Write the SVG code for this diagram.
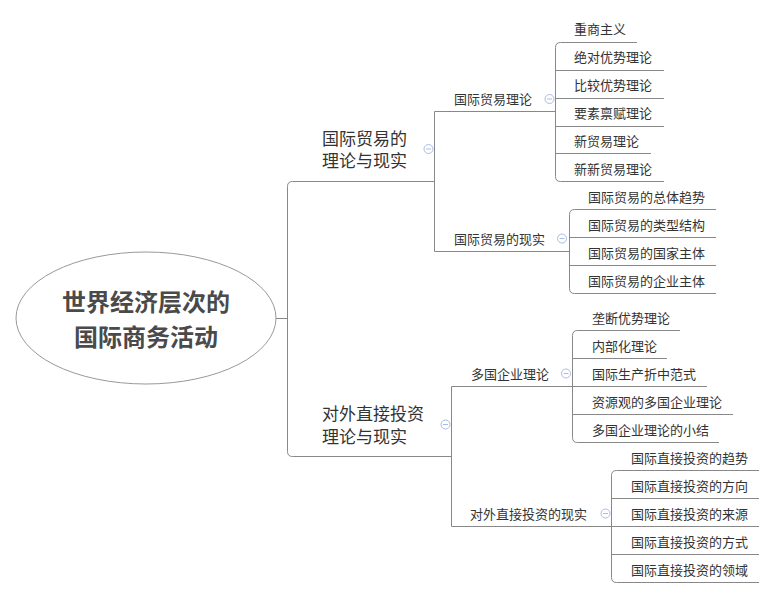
<svg xmlns="http://www.w3.org/2000/svg" width="775" height="598" viewBox="0 0 775 598">
<style>
text{font-family:"Noto Sans CJK SC","Liberation Sans",sans-serif;fill:#333;}
.root{font-size:24px;font-weight:bold;fill:#4a4a4a;}
.l1{font-size:17px;font-family:"Liberation Sans","Noto Sans CJK SC",sans-serif;}
.l2,.l3{font-size:13px;}
.c{fill:none;stroke:#888;stroke-width:1;}
.tog circle{fill:#fff;stroke:#a9bbe6;stroke-width:1;}
.tog line{stroke:#a9bbe6;stroke-width:1;}
</style>
<defs>
<g id="toggle" class="tog"><circle r="4.5"/><line x1="-2.5" y1="0" x2="2.5" y2="0"/></g>
</defs>
<rect width="775" height="598" fill="#fff"/>
<g id="connectors">
<path class="c" d="M276,318.5 H287.5"/>
<path class="c" d="M434.5,181.5 H292.5 Q287.5,181.5 287.5,186.5 V451.5 Q287.5,456.5 292.5,456.5 H451.5"/>
<path class="c" d="M555.5,111.5 H434.5 V251.5 H569.5"/>
<path class="c" d="M572.5,386.5 H451.5 V526.5 H611.5"/>
<path class="c" d="M637,42.5 H560.5 Q555.5,42.5 555.5,47.5 V176.5 Q555.5,181.5 560.5,181.5 H664"/>
<path class="c" d="M555.5,70.5 H664 M555.5,98.5 H664 M555.5,126.5 H664 M555.5,153.5 H651"/>
<path class="c" d="M716,209.5 H574.5 Q569.5,209.5 569.5,214.5 V288.5 Q569.5,293.5 574.5,293.5 H716"/>
<path class="c" d="M569.5,237.5 H716 M569.5,265.5 H716"/>
<path class="c" d="M680,330.5 H577.5 Q572.5,330.5 572.5,335.5 V437.5 Q572.5,442.5 577.5,442.5 H719"/>
<path class="c" d="M572.5,358.5 H667 M572.5,386.5 H707 M572.5,414.5 H733"/>
<path class="c" d="M759,470.5 H616.5 Q611.5,470.5 611.5,475.5 V577.5 Q611.5,582.5 616.5,582.5 H759"/>
<path class="c" d="M611.5,498.5 H759 M611.5,526.5 H759 M611.5,554.5 H759"/>
</g>
<g id="root">
<ellipse cx="146" cy="318" rx="130" ry="66" fill="#fff" stroke="#999" stroke-width="1"/>
<text class="root" text-anchor="middle"><tspan x="146" y="311">世界经济层次的</tspan><tspan x="146" y="345.5">国际商务活动</tspan></text>
</g>
<g id="n1">
<text class="l1"><tspan x="322" y="144.5">国际贸易的</tspan><tspan x="322" y="167">理论与现实</tspan></text>
<use href="#toggle" x="428.5" y="149"/>
</g>
<g id="n2">
<text class="l1"><tspan x="322" y="419.5">对外直接投资</tspan><tspan x="322" y="443">理论与现实</tspan></text>
<use href="#toggle" x="445.5" y="424.5"/>
</g>
<g id="n1a"><text class="l2" x="454" y="104">国际贸易理论</text><use href="#toggle" x="549.5" y="99"/></g>
<g id="n1b"><text class="l2" x="454" y="243.5">国际贸易的现实</text><use href="#toggle" x="562" y="238.5"/></g>
<g id="n2a"><text class="l2" x="471" y="379">多国企业理论</text><use href="#toggle" x="566" y="373.5"/></g>
<g id="n2b"><text class="l2" x="470" y="519">对外直接投资的现实</text><use href="#toggle" x="605.5" y="513.5"/></g>
<g id="a1"><text class="l3" x="574" y="34">重商主义</text></g>
<g id="a2"><text class="l3" x="574" y="62">绝对优势理论</text></g>
<g id="a3"><text class="l3" x="574" y="90">比较优势理论</text></g>
<g id="a4"><text class="l3" x="574" y="118">要素禀赋理论</text></g>
<g id="a5"><text class="l3" x="574" y="146">新贸易理论</text></g>
<g id="a6"><text class="l3" x="574" y="174">新新贸易理论</text></g>
<g id="b1"><text class="l3" x="588" y="202">国际贸易的总体趋势</text></g>
<g id="b2"><text class="l3" x="588" y="230">国际贸易的类型结构</text></g>
<g id="b3"><text class="l3" x="588" y="258">国际贸易的国家主体</text></g>
<g id="b4"><text class="l3" x="588" y="286">国际贸易的企业主体</text></g>
<g id="c1"><text class="l3" x="592" y="323">垄断优势理论</text></g>
<g id="c2"><text class="l3" x="592" y="351">内部化理论</text></g>
<g id="c3"><text class="l3" x="592" y="379">国际生产折中范式</text></g>
<g id="c4"><text class="l3" x="592" y="407">资源观的多国企业理论</text></g>
<g id="c5"><text class="l3" x="592" y="435">多国企业理论的小结</text></g>
<g id="d1"><text class="l3" x="631" y="463">国际直接投资的趋势</text></g>
<g id="d2"><text class="l3" x="631" y="491">国际直接投资的方向</text></g>
<g id="d3"><text class="l3" x="631" y="519">国际直接投资的来源</text></g>
<g id="d4"><text class="l3" x="631" y="547">国际直接投资的方式</text></g>
<g id="d5"><text class="l3" x="631" y="575">国际直接投资的领域</text></g>
</svg>
